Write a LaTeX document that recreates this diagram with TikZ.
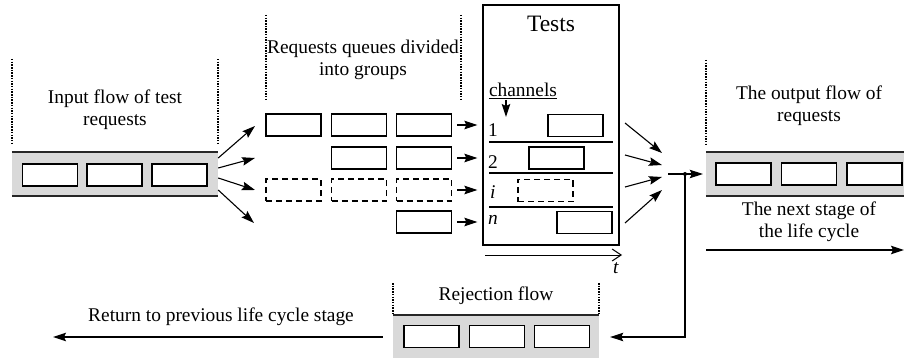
\documentclass[tikz,border=0pt]{standalone}
\usepackage{fontspec}
\setmainfont{LiberationSerif}[Extension=.ttf, UprightFont=*-Regular, ItalicFont=*-Italic, BoldFont=*-Bold, BoldItalicFont=*-BoldItalic]
\usetikzlibrary{arrows.meta}
\definecolor{bandgray}{RGB}{217,217,217}
\begin{document}
\begin{tikzpicture}[x=1pt,y=-1pt,
  every node/.style={font=\fontsize{19.4}{22}\selectfont, inner sep=0pt},
  req/.style={draw, line width=1.3pt, fill=white, minimum width=55pt, minimum height=22pt},
  reqd/.style={req, dash pattern=on 6pt off 4pt},
  bandbox/.style={fill=bandgray, minimum width=206pt, minimum height=44pt},
  bandline/.style={line width=2pt, draw=black!85},
  guide/.style={line width=1.2pt, dash pattern=on 1.5pt off 1.2pt},
  arr/.style={line width=1.1pt, -{Stealth[length=13pt,width=8.5pt,inset=2pt]}},
  sep/.style={line width=1.1pt},
  txt/.style={align=center}]
\path[use as bounding box] (0,0) rectangle (904,358);
\clip (0,0) rectangle (904,358);

% ---------- input flow ----------
\node[bandbox] (inband) at (115,174) {};
\draw[bandline] (inband.north west) -- (inband.north east);
\draw[bandline] (inband.south west) -- (inband.south east);
\node[req] (in1) at (50,175) {};
\node[req] (in2) at (114.5,175) {};
\node[req] (in3) at (179.5,175) {};
\draw[guide] (12,59) -- (12,144);
\draw[guide] (218,59) -- (218,144);
\node[txt] (inlabel) at (115,110) {Input flow of test\\requests};

% fan-out arrows
\coordinate (f1) at (255,126);
\coordinate (f2) at (255,158);
\coordinate (f3) at (255,190);
\coordinate (f4) at (254,223);
\draw[arr] ([yshift=16pt]inband.east) -- (f1);
\draw[arr] ([yshift=6pt]inband.east) -- (f2);
\draw[arr] ([yshift=-4pt]inband.east) -- (f3);
\draw[arr] ([yshift=-16pt]inband.east) -- (f4);

% ---------- queues divided into groups ----------
\draw[guide] (266,15) -- (266,100);
\draw[guide] (461,15) -- (461,100);
\node[txt] (grplabel) at (363,60) {Requests queues divided\\into groups};

\node[req] (r11) at (293.5,125) {};
\node[req] (r12) at (359,125) {};
\node[req] (r13) at (424,125) {};
\node[req] (r22) at (359,158) {};
\node[req] (r23) at (424,158) {};
\node[reqd] (r31) at (293.5,190) {};
\node[reqd] (r32) at (359,190) {};
\node[reqd] (r33) at (424,190) {};
\node[req] (r43) at (424,222) {};

% ---------- tests ----------
\node[draw, line width=1.3pt, minimum width=136pt, minimum height=240pt] (tests) at (551,125) {};
\node (testlabel) at (551,24) [font=\fontsize{23.5}{26}\selectfont] {Tests};
\node (chan) at (523,90) {channels};
\draw[line width=1pt] ([yshift=-2pt]chan.base west) -- ([yshift=-2pt]chan.base east);
\coordinate (chtip) at (506,117);
\draw[arr] (506,100) -- (chtip);

\node[anchor=base west] (c1) at (488,137) {1};
\node[anchor=base west] (c2) at (488,168) {2};
\node[anchor=base west] (ci) at (490,198) {\textit{i}};
\node[anchor=base west] (cn) at (488,224) {\textit{n}};
\draw[sep] (489,142) -- (613,142);
\draw[sep] (489,173) -- (613,173);
\draw[sep] (489,207) -- (613,207);

\node[req] (t1) at (575.5,125.5) {};
\node[req] (t2) at (556.5,158) {};
\node[reqd] (t3) at (545.5,190.5) {};
\node[req] (t4) at (584.5,222.5) {};

% arrows into channels
\draw[arr] ([xshift=5pt]r13.east) -- ([xshift=-5pt]tests.west |- r13.east);
\draw[arr] ([xshift=5pt]r23.east) -- ([xshift=-5pt]tests.west |- r23.east);
\draw[arr] ([xshift=5pt]r33.east) -- ([xshift=-5pt]tests.west |- r33.east);
\draw[arr] ([xshift=5pt]r43.east) -- ([xshift=-5pt]tests.west |- r43.east);

% time axis
\coordinate (tax0) at (485,255);
\coordinate (tax1) at (622,255);
\draw[line width=1pt, -{Straight Barb[length=9pt,width=12pt]}] (tax0) -- (tax1);
\node (tlab) at (616,268) {\textit{t}};

% ---------- merge ----------
\coordinate (o1s) at (625,123); \coordinate (o1e) at (662,153);
\coordinate (o2s) at (625,155); \coordinate (o2e) at (662,165);
\coordinate (o3s) at (625,187); \coordinate (o3e) at (662,177);
\coordinate (o4s) at (625,223); \coordinate (o4e) at (662,190);
\draw[arr] (o1s) -- (o1e);
\draw[arr] (o2s) -- (o2e);
\draw[arr] (o3s) -- (o3e);
\draw[arr] (o4s) -- (o4e);

% ---------- output flow ----------
\node[bandbox] (outband) at (809,174) {};
\draw[bandline] (outband.north west) -- (outband.north east);
\draw[bandline] (outband.south west) -- (outband.south east);
\node[req] (out1) at (743.5,174) {};
\node[req] (out2) at (809,174) {};
\node[req] (out3) at (874.5,174) {};
\draw[guide] (706,60) -- (706,144);
\node[txt] (outlabel) at (809,106) {The output flow of\\requests};
\node[txt] (nextlabel) at (809,222) {The next stage of\\the life cycle};
\coordinate (nexts) at (706,250);
\coordinate (nexte) at (904,250);
\draw[arr] (nexts) -- (nexte);

\coordinate (mstart) at (668,174);
\coordinate (j) at (685,174);
\draw[arr] (mstart) -- ([xshift=-3pt]outband.west);
\fill (j) circle (2pt);

% ---------- rejection flow ----------
\node[bandbox] (rejband) at (496,337) {};
\draw[bandline] (rejband.north west) -- (rejband.north east);
\node[req] (rej1) at (431.5,336.5) {};
\node[req] (rej2) at (497,336.5) {};
\node[req] (rej3) at (562,336.5) {};
\draw[guide] (393,283) -- (393,313);
\draw[guide] (599,283) -- (599,313);
\node[txt] (rejlabel) at (496,296) {Rejection flow};

\draw[arr] (j) |- ([xshift=11pt]rejband.east);

\coordinate (retend) at (53,337);
\draw[arr] ([xshift=-10pt]rejband.west) -- (retend);
\node[txt] (retlabel) at (221,317) {Return to previous life cycle stage};
\end{tikzpicture}
\end{document}
